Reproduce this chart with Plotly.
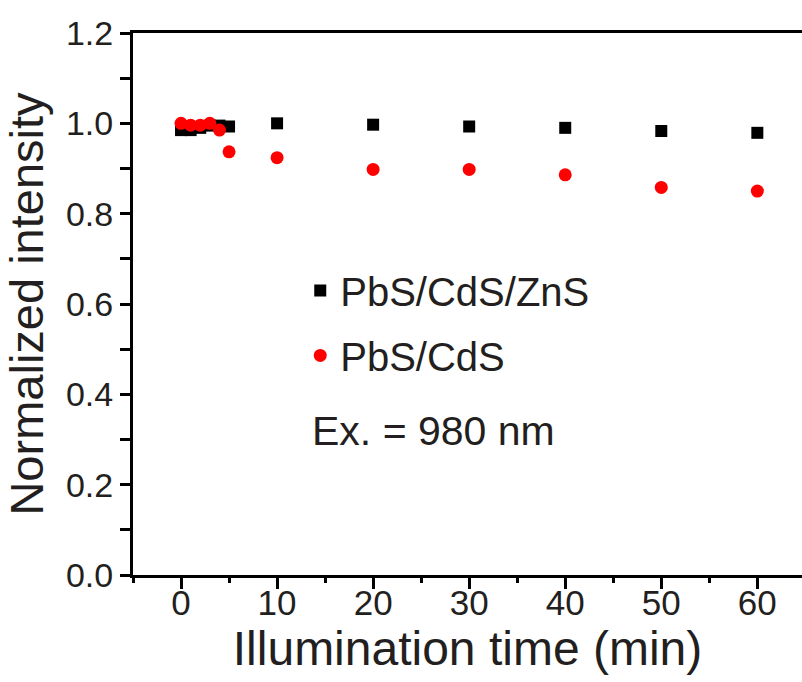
import plotly.graph_objects as go

time_min = [0, 1, 2, 3, 4, 5, 10, 20, 30, 40, 50, 60]
zns_intensity = [0.985, 0.985, 0.99, 0.995, 0.995, 0.993, 1.0, 0.997, 0.993, 0.99, 0.983, 0.979]
cds_intensity = [1.0, 0.996, 0.996, 1.0, 0.985, 0.937, 0.924, 0.898, 0.898, 0.886, 0.858, 0.850]
series_names = ["PbS/CdS/ZnS", "PbS/CdS"]
x_ticks = [0, 10, 20, 30, 40, 50, 60]
y_ticks = [0.0, 0.2, 0.4, 0.6, 0.8, 1.0, 1.2]

FONT = "Liberation Sans, Arial, sans-serif"
TXT = "#231f20"

fig = go.Figure()
fig.add_trace(go.Scatter(x=time_min, y=zns_intensity, mode="markers", name=series_names[0],
                         legendgroup="a",
                         marker=dict(symbol="square", size=12, color="black")))
fig.add_trace(go.Scatter(x=time_min, y=cds_intensity, mode="markers", name=series_names[1],
                         legendgroup="b",
                         marker=dict(symbol="circle", size=13, color="#ff0000")))

fig.update_layout(
    width=802, height=682,
    margin=dict(l=133, r=0, t=33, b=107),
    paper_bgcolor="white", plot_bgcolor="white",
    font=dict(family=FONT, color=TXT),
    showlegend=True,
    legend=dict(x=0.25, y=0.585, xanchor="left", yanchor="top",
                font=dict(size=40, color=TXT, family=FONT),
                bgcolor="rgba(0,0,0,0)", traceorder="grouped", tracegroupgap=10),
    annotations=[dict(text="Ex. = 980 nm", x=0.265, y=0.266, xref="paper", yref="paper",
                      xanchor="left", yanchor="middle", showarrow=False,
                      font=dict(size=41, color=TXT, family=FONT))],
)

fig.update_xaxes(
    range=[-5, 64.65], tickmode="array", tickvals=x_ticks, automargin=False,
    ticks="outside", ticklen=11, tickwidth=3, tickcolor="black",
    showline=True, linewidth=3, linecolor="black", mirror=True,
    showgrid=False, zeroline=False,
    tickfont=dict(size=35, color=TXT, family=FONT),
    ticklabelstandoff=-16,
    minor=dict(dtick=5, tick0=0, ticks="outside", ticklen=5, tickwidth=3, tickcolor="black", showgrid=False),
    title=dict(text="Illumination time (min)", font=dict(size=48, color=TXT, family=FONT), standoff=7),
)
fig.update_yaxes(
    range=[0, 1.2], tickmode="array", tickvals=y_ticks, ticktext=[f"{v:.1f}" for v in y_ticks],
    automargin=False,
    ticks="outside", ticklen=10, tickwidth=3, tickcolor="black",
    showline=True, linewidth=3, linecolor="black", mirror=False,
    showgrid=False, zeroline=False,
    tickfont=dict(size=34, color=TXT, family=FONT),
    minor=dict(dtick=0.1, tick0=0, ticks="outside", ticklen=10, tickwidth=3, tickcolor="black", showgrid=False),
    title=dict(text="Normalized intensity", font=dict(size=47, color=TXT, family=FONT), standoff=8),
)

fig.write_html("out.html", config={"displayModeBar": False},
               post_script="document.body.style.margin='0';")
